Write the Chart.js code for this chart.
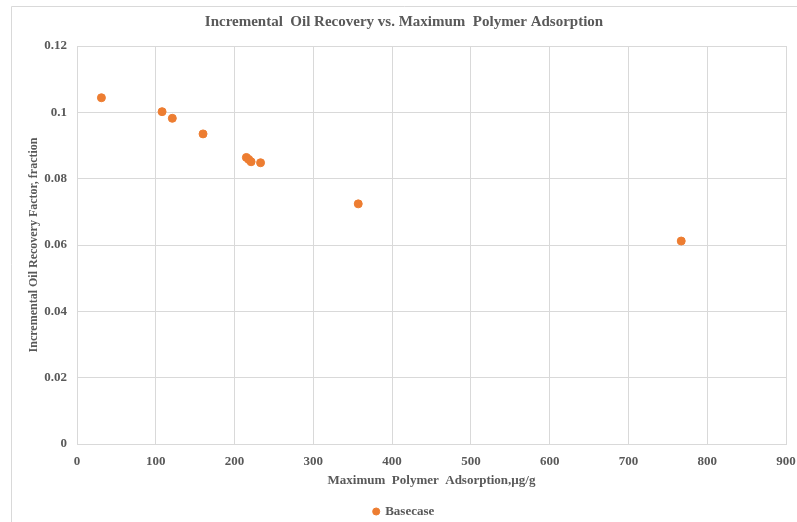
<!DOCTYPE html>
<html>
<head>
<meta charset="utf-8">
<script src="https://cdn.jsdelivr.net/npm/chart.js@4"></script>
<style>
  html, body { margin: 0; padding: 0; background: #fff; }
  #wrap { width: 797px; height: 522px; }
</style>
</head>
<body>
<div id="wrap"><canvas id="grafico" width="797" height="522"></canvas></div>
<script>
// Dados
const adsorcao = [31, 108, 121, 160, 215, 218, 221, 233, 357, 767];
const recuperacao = [0.1044, 0.1002, 0.0982, 0.0935, 0.0864, 0.0858, 0.0851, 0.0848, 0.0724, 0.0612];
const serieNome = 'Basecase';

const corTexto = '#595959';
const corGrade = '#d9d9d9';
const fonte = 'Liberation Serif, Times New Roman, serif';

// Moldura (linhas de cima e da esquerda)
const moldura = {
  id: 'moldura',
  beforeDraw(chart) {
    const c = chart.ctx;
    c.save();
    c.strokeStyle = corGrade;
    c.lineWidth = 1;
    c.beginPath();
    c.moveTo(11.5, 6.5);
    c.lineTo(797, 6.5);
    c.moveTo(11.5, 6.5);
    c.lineTo(11.5, 522);
    c.stroke();
    c.restore();
  }
};

const ctx = document.getElementById('grafico').getContext('2d');
new Chart(ctx, {
  type: 'scatter',
  data: {
    datasets: [{
      label: serieNome,
      data: adsorcao.map((x, i) => ({ x: x, y: recuperacao[i] })),
      backgroundColor: '#ED7D31',
      borderColor: '#ED7D31',
      pointRadius: 4,
      pointHoverRadius: 4
    }]
  },
  options: {
    responsive: false,
    animation: false,
    layout: { padding: { left: 22, right: 11, top: 0, bottom: -6 } },
    plugins: {
      title: {
        display: true,
        text: 'Incremental  Oil Recovery vs. Maximum  Polymer Adsorption',
        color: corTexto,
        font: { family: fonte, size: 15, weight: 'bold' },
        padding: { top: 13, bottom: 15 }
      },
      legend: {
        position: 'bottom',
        labels: {
          color: corTexto,
          font: { family: fonte, size: 13, weight: 'bold' },
          usePointStyle: true,
          pointStyle: 'circle',
          boxWidth: 5,
          boxHeight: 5,
          padding: 5
        }
      },
      tooltip: { enabled: false }
    },
    scales: {
      x: {
        type: 'linear',
        min: 0,
        max: 900,
        ticks: {
          stepSize: 100,
          color: corTexto,
          font: { family: fonte, size: 13, weight: 'bold' },
          padding: 10
        },
        grid: { color: corGrade, drawTicks: false },
        border: { color: corGrade },
        title: {
          display: true,
          text: 'Maximum  Polymer  Adsorption,µg/g',
          color: corTexto,
          font: { family: fonte, size: 13, weight: 'bold' },
          padding: { top: 4, bottom: 12 }
        },
        afterFit(scale) {
          scale.height = 56;
          scale.paddingLeft = 0;
          scale.paddingRight = 0;
        }
      },
      y: {
        min: 0,
        max: 0.12,
        ticks: {
          stepSize: 0.02,
          color: corTexto,
          font: { family: fonte, size: 13, weight: 'bold' },
          padding: 10,
          callback: v => String(Number(v.toFixed(2)))
        },
        grid: { color: corGrade, drawTicks: false },
        border: { color: corGrade },
        title: {
          display: true,
          text: 'Incremental Oil Recovery Factor, fraction',
          color: corTexto,
          font: { family: fonte, size: 12, weight: 'bold' },
          padding: { top: 5, bottom: 4 }
        },
        afterFit(scale) { scale.width = 55; }
      }
    }
  },
  plugins: [moldura]
});
</script>
</body>
</html>
